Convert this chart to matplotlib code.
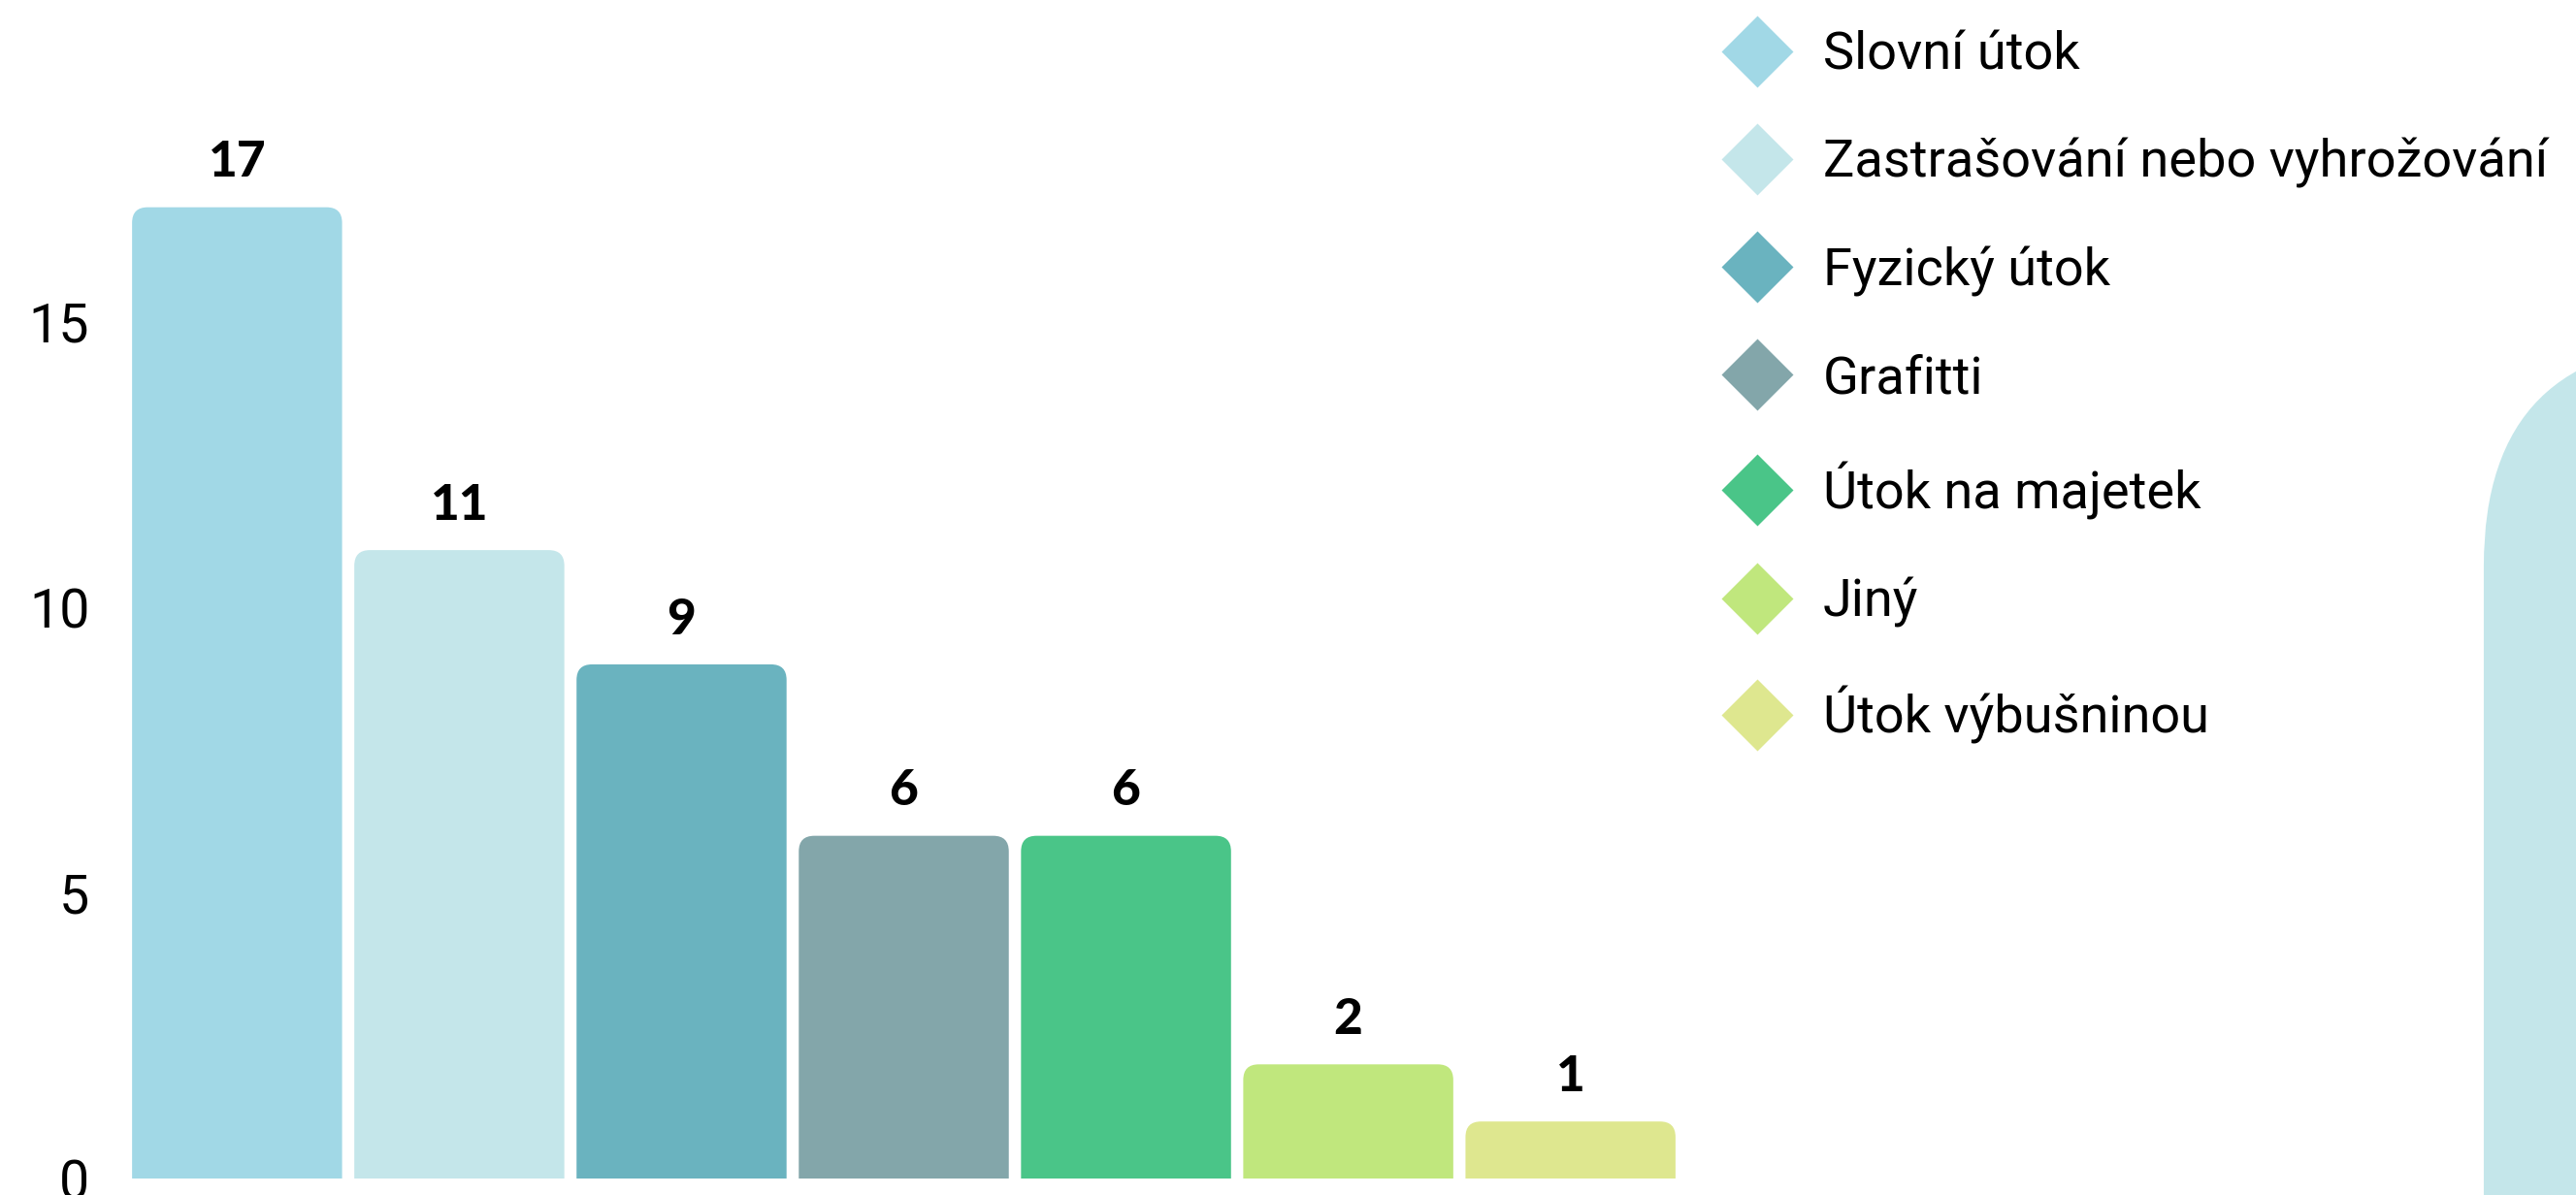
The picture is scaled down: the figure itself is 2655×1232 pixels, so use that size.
import matplotlib
matplotlib.use("Agg")
import matplotlib.pyplot as plt
from matplotlib.patches import FancyBboxPatch
from matplotlib.lines import Line2D

categories = ["Slovní útok", "Zastrašování nebo vyhrožování", "Fyzický útok",
              "Grafitti", "Útok na majetek", "Jiný", "Útok výbušninou"]
values = [17, 11, 9, 6, 6, 2, 1]
colors = ["#A1D8E6", "#C4E6EA", "#6AB3BF", "#83A6AA", "#4AC588", "#C0E77D", "#DEE78F"]
yticks = [0, 5, 10, 15]

fig = plt.figure(figsize=(26.55, 12.32), dpi=100)
ax = fig.add_axes([0.0489, 0.0137, 0.6039, 0.9563])
ax.set_xlim(-0.5, 6.5)
ax.set_ylim(0, 20)

# rounded top corners: work out aspect so corners look circular
fig.canvas.draw()
bb = ax.get_window_extent()
px_x = bb.width / 7.0
px_y = bb.height / 20.0
r_px = 16
r = r_px / px_x
aspect = px_x / px_y

bars = ax.bar(range(len(values)), values, width=0.945, color=colors)
for b, c, v in zip(bars, colors, values):
    b.set_visible(False)
    x0 = b.get_x()
    w = b.get_width()
    p = FancyBboxPatch((x0, -1), w, v + 1,
                       boxstyle="round,pad=0,rounding_size=%f" % r,
                       mutation_aspect=aspect, facecolor=c, edgecolor="none")
    ax.add_patch(p)
    ax.text(x0 + w / 2, v + 0.38, str(v), ha="center", va="bottom",
            fontsize=37, fontweight="black", family="Lato")

for s in ax.spines.values():
    s.set_visible(False)
ax.set_xticks([])
ax.set_yticks(yticks)
ax.set_yticklabels([str(t) for t in yticks], family="Roboto", fontsize=40)
ax.tick_params(axis="y", length=0, pad=27)

handles = [Line2D([], [], marker="D", linestyle="none", markersize=38,
                  markerfacecolor=c, markeredgecolor="none") for c in colors]
leg = fig.legend(handles, categories, loc="upper left",
                 bbox_to_anchor=(0.6537, 0.992), frameon=False,
                 prop={"family": "Roboto", "size": 39},
                 labelspacing=1.1, handletextpad=0.25, borderaxespad=0)

# decorative rounded shape at right edge
deco = FancyBboxPatch((0.9642, -0.2), 0.2, 0.913, transform=fig.transFigure,
                      boxstyle="round,pad=0,rounding_size=0.0866",
                      mutation_aspect=2655 / 1232,
                      facecolor="#C4E6EA", edgecolor="none")
fig.patches.append(deco)

fig.savefig("out.png", dpi=100)
